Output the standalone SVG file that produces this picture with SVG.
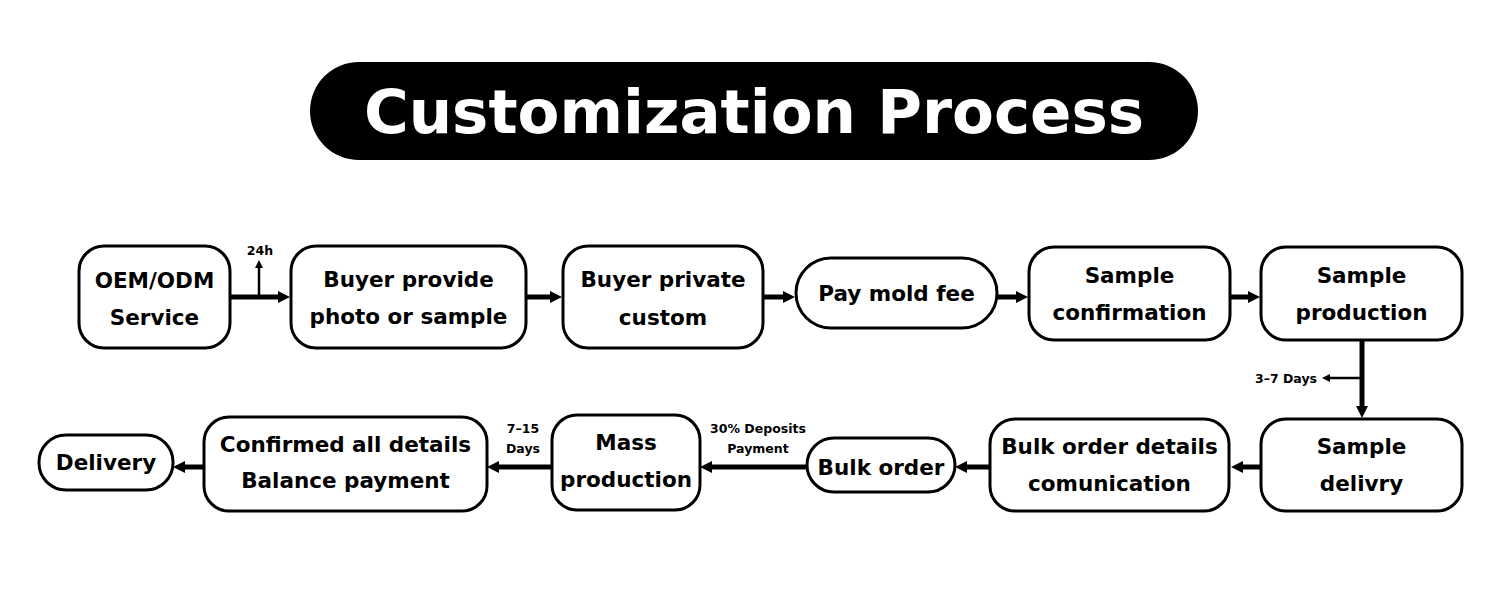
<svg xmlns="http://www.w3.org/2000/svg" width="1500" height="596" viewBox="0 0 1500 596">
<style>
.n{fill:#fff;stroke:#000;stroke-width:3}
.t{font-family:"DejaVu Sans",sans-serif;font-weight:bold;font-size:21.5px;fill:#000;text-anchor:middle}
.s{font-family:"DejaVu Sans",sans-serif;font-weight:bold;font-size:12.5px;fill:#000;text-anchor:middle}
.c{stroke:#000;stroke-width:5;fill:none}
.cs{stroke:#000;stroke-width:2.5;fill:none}
</style>
<defs>
<marker id="ah" viewBox="0 0 12 12" refX="0" refY="6" markerWidth="12" markerHeight="12" markerUnits="userSpaceOnUse" orient="auto"><path d="M0,0 L12,6 L0,12 z" fill="#000"/></marker>
<marker id="as" viewBox="0 0 8 8" refX="0" refY="4" markerWidth="8" markerHeight="8" markerUnits="userSpaceOnUse" orient="auto"><path d="M0,0 L8,4 L0,8 z" fill="#000"/></marker>
</defs>
<rect width="1500" height="596" fill="#fff"/>
<g id="title">
<rect x="310" y="62" width="888" height="98" rx="49" fill="#000"/>
<text x="754" y="133" style="font-family:'DejaVu Sans',sans-serif;font-weight:bold;font-size:61px;fill:#fff;text-anchor:middle">Customization Process</text>
</g>
<g id="connectors">
<line class="c" x1="231" y1="297" x2="278" y2="297" marker-end="url(#ah)"/>
<line class="cs" x1="259" y1="297" x2="259" y2="268" marker-end="url(#as)"/>
<text class="s" x="260" y="255">24h</text>
<line class="c" x1="526" y1="297" x2="550" y2="297" marker-end="url(#ah)"/>
<line class="c" x1="763" y1="297" x2="783" y2="297" marker-end="url(#ah)"/>
<line class="c" x1="997" y1="297" x2="1016" y2="297" marker-end="url(#ah)"/>
<line class="c" x1="1230" y1="297" x2="1248" y2="297" marker-end="url(#ah)"/>
<line class="c" x1="1362" y1="340" x2="1362" y2="406" marker-end="url(#ah)"/>
<line class="cs" x1="1362" y1="378" x2="1330" y2="378" marker-end="url(#as)"/>
<text class="s" x="1286" y="383">3–7 Days</text>
<line class="c" x1="1260" y1="467" x2="1243" y2="467" marker-end="url(#ah)"/>
<line class="c" x1="990" y1="467" x2="967" y2="467" marker-end="url(#ah)"/>
<line class="c" x1="806" y1="467" x2="712" y2="467" marker-end="url(#ah)"/>
<text class="s" x="758" y="433">30% Deposits</text>
<text class="s" x="758" y="453">Payment</text>
<line class="c" x1="552" y1="467" x2="499" y2="467" marker-end="url(#ah)"/>
<text class="s" x="523" y="433">7–15</text>
<text class="s" x="523" y="453">Days</text>
<line class="c" x1="203" y1="467" x2="185" y2="467" marker-end="url(#ah)"/>
</g>
<g id="n1"><rect class="n" x="79" y="246" width="151" height="102" rx="25"/><text class="t" x="154.5" y="288">OEM/ODM</text><text class="t" x="154.5" y="325">Service</text></g>
<g id="n2"><rect class="n" x="291" y="246" width="235" height="102" rx="25"/><text class="t" x="408.5" y="287">Buyer provide</text><text class="t" x="408.5" y="324">photo or sample</text></g>
<g id="n3"><rect class="n" x="563" y="246" width="200" height="102" rx="25"/><text class="t" x="663" y="287">Buyer private</text><text class="t" x="663" y="325">custom</text></g>
<g id="n4"><rect class="n" x="796" y="258" width="201" height="70" rx="35"/><text class="t" x="896.5" y="301">Pay mold fee</text></g>
<g id="n5"><rect class="n" x="1029" y="247" width="201" height="93" rx="25"/><text class="t" x="1129.5" y="283">Sample</text><text class="t" x="1129.5" y="320">confirmation</text></g>
<g id="n6"><rect class="n" x="1261" y="247" width="201" height="93" rx="25"/><text class="t" x="1361.5" y="283">Sample</text><text class="t" x="1361.5" y="320">production</text></g>
<g id="n7"><rect class="n" x="1261" y="419" width="201" height="92" rx="25"/><text class="t" x="1361.5" y="454">Sample</text><text class="t" x="1361.5" y="491">delivry</text></g>
<g id="n8"><rect class="n" x="990" y="419" width="239" height="92" rx="25"/><text class="t" x="1109.5" y="454">Bulk order details</text><text class="t" x="1109.5" y="491">comunication</text></g>
<g id="n9"><rect class="n" x="807" y="438" width="148" height="54" rx="27"/><text class="t" x="881" y="475">Bulk order</text></g>
<g id="n10"><rect class="n" x="552" y="415" width="148" height="95" rx="25"/><text class="t" x="626" y="450">Mass</text><text class="t" x="626" y="487">production</text></g>
<g id="n11"><rect class="n" x="204" y="417" width="283" height="94" rx="25"/><text class="t" x="345.5" y="452">Confirmed all details</text><text class="t" x="345.5" y="488">Balance payment</text></g>
<g id="n12"><rect class="n" x="39" y="435" width="134" height="55" rx="27"/><text class="t" x="106" y="470">Delivery</text></g>
</svg>
